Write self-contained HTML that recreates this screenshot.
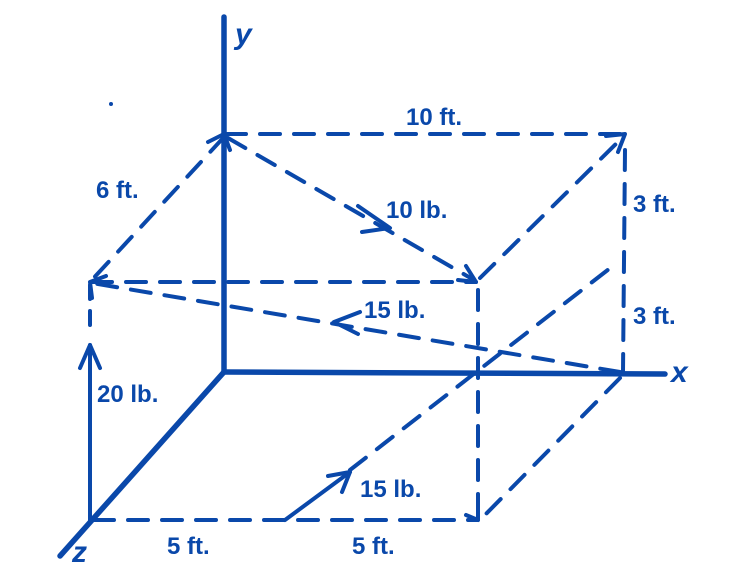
<!DOCTYPE html>
<html><head><style>
html,body{margin:0;padding:0;background:#fff;width:730px;height:576px;overflow:hidden}
svg{display:block}
text{font-family:"Liberation Sans",sans-serif;font-weight:bold;fill:#0a48aa}
</style></head><body>
<svg width="730" height="576" viewBox="0 0 730 576">
<g stroke="#0a48aa" stroke-linecap="round" stroke-linejoin="round" fill="none">
<line x1="224" y1="17" x2="224" y2="372" stroke-width="5.5"/>
<line x1="224" y1="372" x2="665" y2="374" stroke-width="5.5"/>
<line x1="224" y1="372" x2="60" y2="556" stroke-width="5.5"/>
<line x1="90" y1="520" x2="90" y2="345" stroke-width="4"/>
<polyline points="80,368 90,345 100,368" stroke-width="4"/>
<line x1="90" y1="285" x2="90" y2="335" stroke-width="4" stroke-dasharray="14,12"/>
<g stroke-width="4" stroke-dasharray="20,14">
<line x1="226" y1="134" x2="624" y2="134"/>
<line x1="224" y1="137" x2="90" y2="282"/>
<line x1="625" y1="150" x2="623" y2="372"/>
<line x1="92" y1="282" x2="476" y2="282"/>
<line x1="480" y1="278" x2="624" y2="136"/>
<line x1="228" y1="138" x2="474" y2="280"/>
<line x1="620" y1="372" x2="92" y2="283"/>
<line x1="478" y1="290" x2="478" y2="520"/>
<line x1="94" y1="520" x2="478" y2="520"/>
<line x1="620" y1="378" x2="482" y2="518"/>
<line x1="350" y1="470" x2="618" y2="262"/>
</g>
<g stroke-width="4">
<polyline points="92,298 90,282 106,276"/>
<polyline points="208,142 224,134 230,150"/>
<polyline points="606,136 625,134 618,152"/>
<polyline points="458,280 476,282 466,266"/>
<polyline points="466,515 478,520 478,506"/>
<polyline points="358,206 390,228 362,232"/>
<polyline points="360,312 334,322 358,334"/>
<line x1="285" y1="520" x2="350" y2="472"/>
<polyline points="328,476 350,472 342,492"/>
</g>
</g>
<text x="235" y="44" font-size="30" font-style="italic" font-family="Liberation Serif">y</text>
<text x="671" y="382" font-size="30" font-style="italic" font-family="Liberation Serif">x</text>
<text x="72" y="562" font-size="30" font-style="italic" font-family="Liberation Serif">z</text>
<text x="406" y="125" font-size="24">10 ft.</text>
<text x="96" y="198" font-size="24">6 ft.</text>
<text x="386" y="218" font-size="24">10 lb.</text>
<text x="633" y="212" font-size="24">3 ft.</text>
<text x="633" y="324" font-size="24">3 ft.</text>
<text x="364" y="318" font-size="24">15 lb.</text>
<text x="97" y="402" font-size="24">20 lb.</text>
<text x="360" y="497" font-size="24">15 lb.</text>
<text x="167" y="554" font-size="24">5 ft.</text>
<text x="352" y="554" font-size="24">5 ft.</text>
<circle cx="111" cy="104" r="2" fill="#0a48aa"/>
</svg>
</body></html>
